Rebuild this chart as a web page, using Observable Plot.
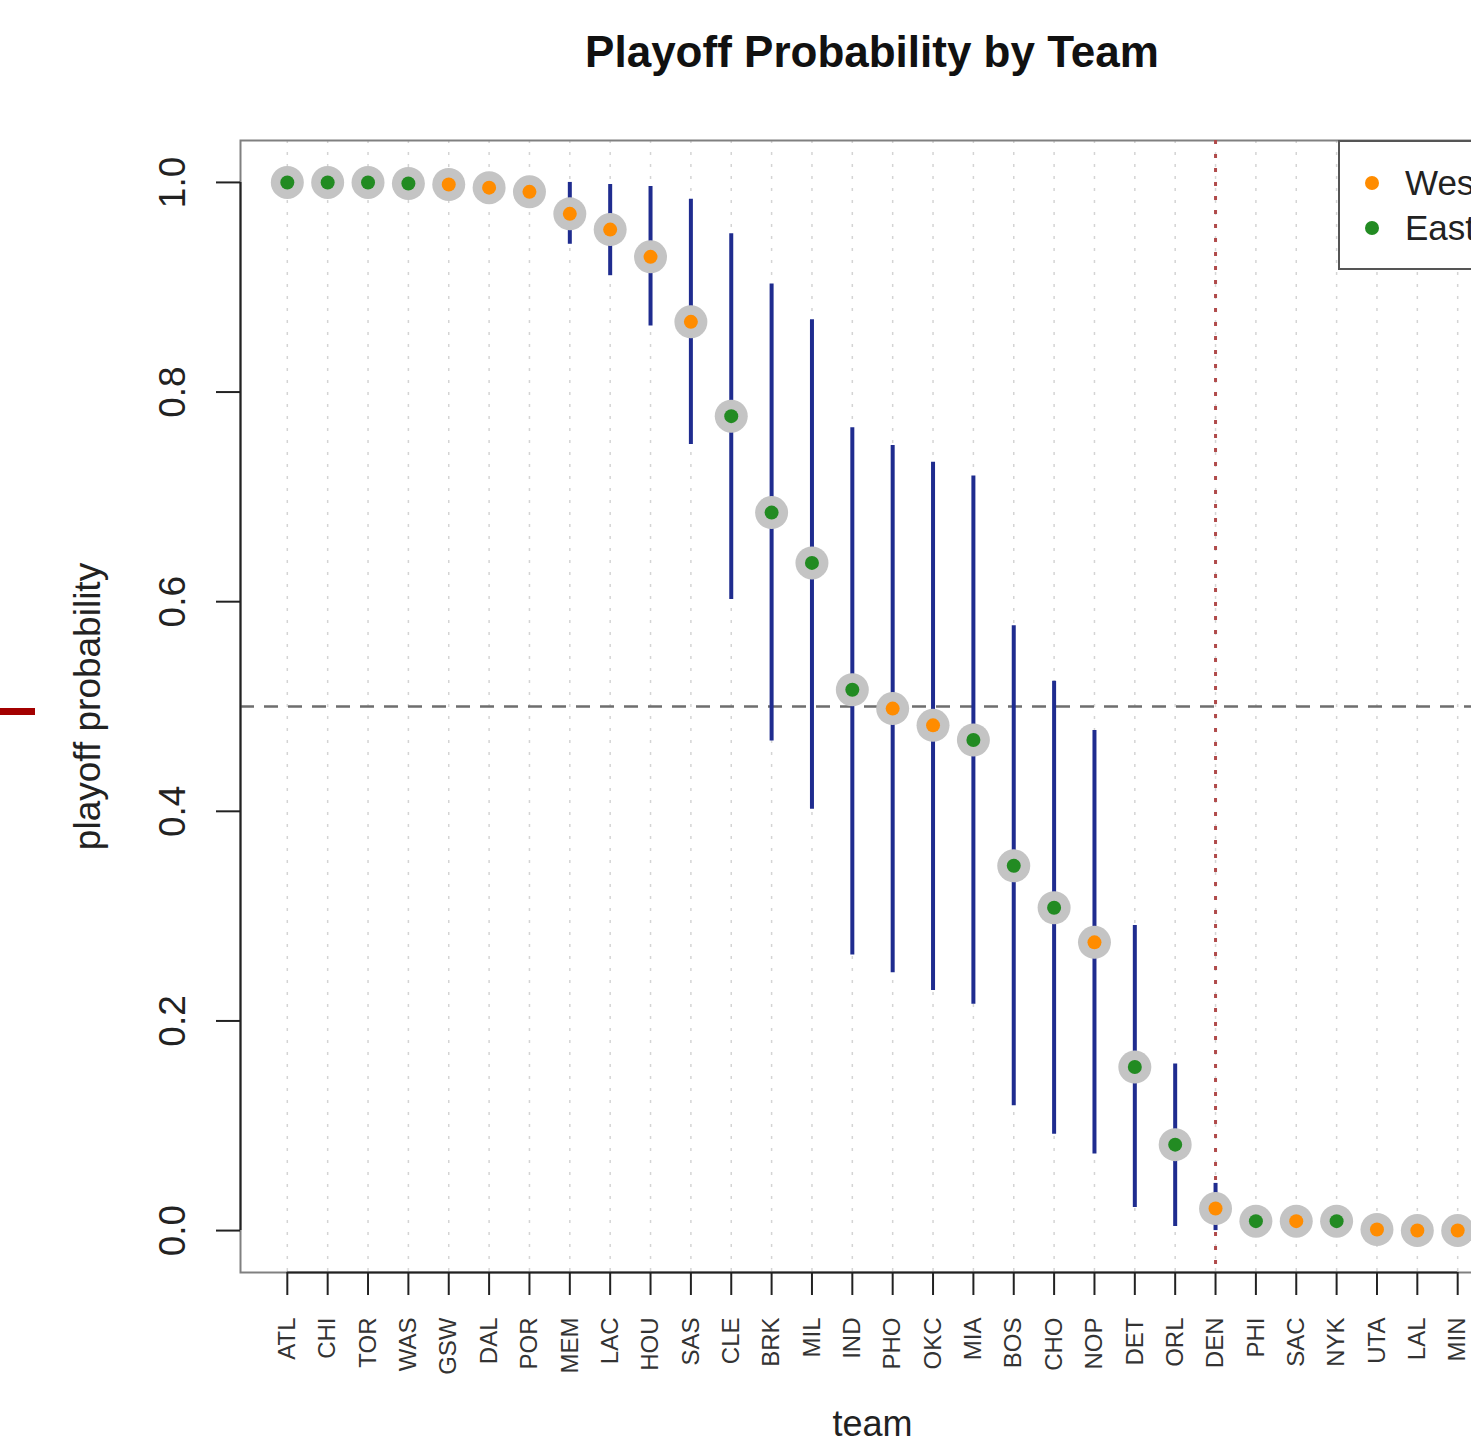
<!DOCTYPE html>
<html>
<head>
<meta charset="utf-8">
<script src="https://cdn.jsdelivr.net/npm/d3@7"></script>
<script src="https://cdn.jsdelivr.net/npm/@observablehq/plot@0.6"></script>
<style>
  html, body { margin: 0; padding: 0; background: white; }
  body { width: 1471px; height: 1447px; overflow: hidden; position: relative; font-family: "Liberation Sans", Arial, Helvetica, sans-serif; }
  #wrap { position: relative; width: 1520px; }
  #title { box-sizing: border-box; width: 1520px; height: 100px; padding-left: 224px; padding-top: 30px; text-align: center; font-size: 44px; line-height: 44px; font-weight: bold; color: #111; }
  #legend { position: absolute; left: 1338px; top: 140px; width: 166px; height: 130px; box-sizing: border-box; border: 2px solid #555; background: white; }
  .lg-row { position: absolute; left: 0; font-size: 35px; line-height: 35px; color: #222; }
  .lg-dot { position: absolute; width: 14px; height: 14px; border-radius: 50%; }
  #mark { position: absolute; left: 0; top: 708px; width: 35px; height: 7px; background: #a30000; }
</style>
</head>
<body>
<div id="wrap">
  <div id="title">Playoff Probability by Team</div>
  <div id="chart"></div>
  <div id="legend"></div>
  <div id="mark"></div>
</div>
<script>
const teams = ["ATL","CHI","TOR","WAS","GSW","DAL","POR","MEM","LAC","HOU","SAS","CLE","BRK","MIL","IND","PHO","OKC","MIA","BOS","CHO","NOP","DET","ORL","DEN","PHI","SAC","NYK","UTA","LAL","MIN"];
const conference = ["East","East","East","East","West","West","West","West","West","West","West","East","East","East","East","West","West","East","East","East","West","East","East","West","East","West","East","West","West","West"];
const prob  = [1.0,1.0,1.0,0.999,0.998,0.995,0.991,0.970,0.955,0.929,0.867,0.777,0.685,0.637,0.516,0.498,0.482,0.468,0.348,0.308,0.275,0.156,0.082,0.021,0.009,0.009,0.009,0.001,0.0,0.0];
const lower = [1.0,1.0,1.0,0.999,0.998,0.995,0.991,0.941,0.911,0.863,0.750,0.602,0.467,0.402,0.263,0.246,0.229,0.216,0.119,0.092,0.073,0.022,0.004,0.0,0.009,0.009,0.009,0.001,0.0,0.0];
const upper = [1.0,1.0,1.0,0.999,0.998,0.995,0.991,1.0,0.998,0.996,0.984,0.951,0.903,0.869,0.766,0.749,0.733,0.720,0.577,0.524,0.477,0.291,0.159,0.045,0.009,0.009,0.009,0.001,0.0,0.0];
const yTicks = [0, 0.2, 0.4, 0.6, 0.8, 1.0];
const cutoffTeam = "DEN";
const threshold = 0.5;
const legendItems = ["West", "East"];
const confColors = {West: "#ff8c00", East: "#228b22"};

const data = teams.map((t, k) => ({team: t, i: k + 1, conf: conference[k], p: prob[k], lo: lower[k], hi: upper[k]}));
const idx = data.map(d => d.i);
const n = teams.length;
const pad = (n - 1) * 0.04;
const fontFam = '"Liberation Sans", Arial, Helvetica, sans-serif';

const chart = Plot.plot({
  width: 1520,
  height: 1347,
  marginTop: 40,
  marginBottom: 175,
  marginLeft: 240,
  marginRight: 16,
  style: {fontFamily: fontFam, background: "white", color: "#222"},
  x: {type: "linear", domain: [1 - pad, n + pad], axis: null},
  y: {domain: [-0.04, 1.04], axis: null},
  marks: [
    Plot.ruleX(idx, {stroke: "#d4d4d4", strokeWidth: 1.5, strokeDasharray: "3,9"}),
    Plot.frame({stroke: "#808080", strokeWidth: 2}),
    Plot.ruleY([threshold], {stroke: "#6e6e6e", strokeWidth: 2.5, strokeDasharray: "14,10"}),
    Plot.ruleX([teams.indexOf(cutoffTeam) + 1], {stroke: "#b04a4a", strokeWidth: 3, strokeDasharray: "4,10"}),
    Plot.ruleX(data.filter(d => d.hi > d.lo), {x: "i", y1: "lo", y2: "hi", stroke: "#1f2c8f", strokeWidth: 4}),
    Plot.dot(data, {x: "i", y: "p", r: 16.5, fill: "#c4c4c4", stroke: null}),
    Plot.dot(data, {x: "i", y: "p", r: 7, fill: d => confColors[d.conf], stroke: null}),
    // y axis
    Plot.ruleX([1 - pad], {y1: yTicks[0], y2: yTicks[yTicks.length - 1], stroke: "#222", strokeWidth: 2}),
    Plot.axisY(yTicks, {tickSize: 24, tickFormat: () => "", stroke: "#222", strokeWidth: 2}),
    Plot.text(yTicks, {y: d => d, text: d => d.toFixed(1), frameAnchor: "left", dx: -67, rotate: -90, textAnchor: "middle", lineAnchor: "middle", fontSize: 37, fill: "#222"}),
    Plot.text(["playoff probability"], {frameAnchor: "left", dx: -152, rotate: -90, textAnchor: "middle", lineAnchor: "middle", fontSize: 37, fill: "#222"}),
    // x axis
    Plot.ruleY([-0.04], {x1: 1, x2: n, stroke: "#222", strokeWidth: 2}),
    Plot.axisX(idx, {tickSize: 23, tickFormat: () => "", stroke: "#222", strokeWidth: 2}),
    Plot.text(data, {x: "i", text: "team", frameAnchor: "bottom", dy: 45, rotate: -90, textAnchor: "end", lineAnchor: "middle", fontSize: 24, fill: "#333"}),
    Plot.text(["team"], {frameAnchor: "bottom", dy: 163, fontSize: 36, fill: "#222"})
  ]
});
document.getElementById("chart").appendChild(chart);

const lg = document.getElementById("legend");
legendItems.forEach((name, k) => {
  const dot = document.createElement("div");
  dot.className = "lg-dot";
  dot.style.background = confColors[name];
  dot.style.left = (1372 - 1338 - 2 - 7) + "px";
  dot.style.top = (183 + k * 45 - 140 - 2 - 7) + "px";
  lg.appendChild(dot);
  const t = document.createElement("div");
  t.className = "lg-row";
  t.textContent = name;
  t.style.left = (1405 - 1338 - 2) + "px";
  t.style.top = (183 + k * 45 - 140 - 2 - 18) + "px";
  lg.appendChild(t);
});
</script>
</body>
</html>
